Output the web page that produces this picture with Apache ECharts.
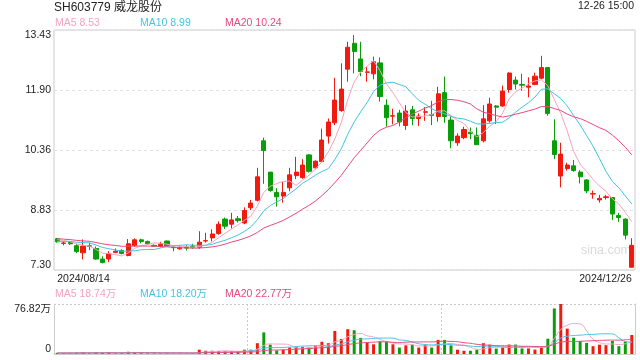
<!DOCTYPE html>
<html><head><meta charset="utf-8">
<script src="https://cdn.jsdelivr.net/npm/echarts@6/dist/echarts.min.js"></script>
<style>html,body{margin:0;padding:0;background:#fff}#c{width:640px;height:360px}</style>
</head><body><div id="c"></div>
<script>
const dates = [
'2024/08/14','2024/08/15','2024/08/16','2024/08/19','2024/08/20','2024/08/21','2024/08/22','2024/08/23','2024/08/26','2024/08/27','2024/08/28','2024/08/29','2024/08/30',
'2024/09/02','2024/09/03','2024/09/04','2024/09/05','2024/09/06','2024/09/09','2024/09/10','2024/09/11','2024/09/12','2024/09/13','2024/09/18','2024/09/19','2024/09/20','2024/09/23','2024/09/24','2024/09/25','2024/09/26','2024/09/27','2024/09/30',
'2024/10/08','2024/10/09','2024/10/10','2024/10/11','2024/10/14','2024/10/15','2024/10/16','2024/10/17','2024/10/18','2024/10/21','2024/10/22','2024/10/23','2024/10/24','2024/10/25','2024/10/28','2024/10/29','2024/10/30','2024/10/31',
'2024/11/01','2024/11/04','2024/11/05','2024/11/06','2024/11/07','2024/11/08','2024/11/11','2024/11/12','2024/11/13','2024/11/14','2024/11/15','2024/11/18','2024/11/19','2024/11/20','2024/11/21','2024/11/22','2024/11/25','2024/11/26','2024/11/27','2024/11/28','2024/11/29',
'2024/12/02','2024/12/03','2024/12/04','2024/12/05','2024/12/06','2024/12/09','2024/12/10','2024/12/11','2024/12/12','2024/12/13','2024/12/16','2024/12/17','2024/12/18','2024/12/19','2024/12/20','2024/12/23','2024/12/24','2024/12/25','2024/12/26'];

const open = [8.10,7.98,8.00,7.92,7.74,7.92,7.85,7.58,7.58,7.75,7.80,7.67,7.92,8.07,8.03,7.93,7.90,8.04,7.88,7.84,7.89,7.91,7.88,8.04,8.12,8.23,8.60,8.47,8.61,8.50,8.89,9.08,
10.60,9.80,9.28,9.19,9.40,9.71,9.66,10.24,9.91,10.07,10.72,11.06,11.37,12.43,13.09,12.69,12.35,12.31,
12.59,11.51,11.23,11.31,10.99,11.39,11.17,11.33,11.27,11.22,11.83,11.13,10.55,10.68,10.82,10.74,10.60,11.11,11.49,11.49,11.91,
12.15,12.04,11.97,12.04,12.20,12.47,10.60,9.70,9.89,9.96,9.80,9.60,9.24,9.09,9.15,9.15,8.69,8.60,7.37];
const close = [8.02,7.99,7.97,7.77,7.91,7.90,7.58,7.49,7.72,7.78,7.72,7.97,8.07,8.03,7.97,7.91,7.96,7.92,7.87,7.88,7.86,7.88,8.01,8.05,8.22,8.47,8.42,8.58,8.56,8.82,9.01,9.68,
10.35,9.33,9.17,9.28,9.73,9.80,9.98,9.82,10.08,10.62,11.08,11.64,11.92,12.99,12.88,12.37,12.36,12.62,
11.73,11.19,11.24,11.08,11.36,11.17,11.23,11.34,11.25,11.80,11.22,10.60,10.72,10.89,10.78,10.50,11.16,11.54,11.46,11.87,12.33,
12.05,12.02,12.00,12.25,12.47,11.30,10.25,10.26,9.98,9.84,9.68,9.32,9.25,9.13,9.17,8.73,8.64,8.19,7.93];
const low = [8.00,7.93,7.94,7.73,7.57,7.81,7.56,7.47,7.50,7.73,7.70,7.65,7.90,7.98,7.95,7.89,7.88,7.91,7.78,7.82,7.80,7.84,7.84,8.00,8.03,8.20,8.35,8.36,8.51,8.47,8.83,9.05,
9.50,9.30,8.92,9.02,9.31,9.62,9.63,9.79,9.87,10.05,10.53,11.00,11.34,12.11,12.32,12.25,12.11,12.17,
11.60,10.96,11.02,10.97,10.88,11.00,10.98,11.11,11.00,11.09,11.06,10.41,10.47,10.64,10.64,10.50,10.56,11.06,11.03,11.47,11.83,
11.91,11.88,11.71,12.02,12.17,11.24,10.13,9.41,9.84,9.81,9.51,9.26,9.12,9.02,9.10,8.58,8.53,8.08,7.37];
const high = [8.12,8.03,8.01,7.97,8.08,8.00,7.90,7.65,7.78,7.85,7.83,8.09,8.11,8.10,8.05,7.95,8.02,8.05,7.90,7.92,7.94,7.97,8.29,8.25,8.34,8.54,8.64,8.76,8.68,8.90,9.09,9.91,
10.68,9.80,9.39,9.56,9.91,10.19,10.13,10.26,10.10,10.91,11.17,12.21,12.58,13.13,13.30,13.13,12.49,12.75,
12.73,11.66,11.42,11.39,11.51,11.49,11.30,11.46,11.62,11.98,12.24,11.22,10.79,10.96,10.94,10.94,11.51,11.70,11.51,12.01,12.35,
12.24,12.31,12.22,12.34,12.77,12.47,11.15,10.55,10.04,10.11,9.85,9.62,9.33,9.22,9.22,9.15,8.76,8.62,8.11];
// volume in 万 (10k shares)
const volume = [1.8,1.4,1.2,2.2,2.4,1.3,2.6,2.0,1.9,1.2,1.3,3.4,2.2,1.4,1.2,1.0,1.1,1.5,1.3,1.2,1.0,1.2,6.6,5.0,5.0,4.4,3.9,4.2,3.3,6.6,6.6,16.6,
33.2,14.4,5.5,6.6,9.9,11.0,11.0,9.9,12.2,18.8,16.6,35.4,23.2,38.1,36.5,24.8,17.2,14.9,
19.3,18.8,14.9,9.9,13.3,14.4,9.9,14.4,9.9,21.6,21.6,13.3,6.6,5.0,5.0,6.6,16.6,14.4,8.3,9.9,14.5,
14.5,8.5,8.5,6.8,11.3,23.5,70.0,76.82,39.0,25.0,20.0,17.0,12.0,14.3,13.5,20.0,12.0,19.0,29.2];
// trading days before the first shown day (only used for moving averages)
const preClose = [8.25,8.20,8.15,8.18,8.12,8.16,8.20,8.18,8.14,8.12,8.00,7.96,7.98,8.02,7.97,8.10,8.12,8.06,8.08];
const preVolume = [1.6,1.4,1.8,1.5,1.3,1.7,1.5,1.2,1.4,1.6,1.3,1.5,1.8,1.4,1.2,1.6,1.5,1.3,1.4];
const priceTicks = ['7.30','8.83','10.36','11.90','13.43'];
const volTicks = ['0','76.82万'];
const maPeriods = [5,10,20];
const titleText = 'SH603779 威龙股份';
const timeText = '12-26 15:00';

const FONT = '"Liberation Sans", Arial, "Noto Sans CJK SC", sans-serif';
const UP = '#f2190f', DOWN = '#0a9d0a';
const MA_COLORS = ['#f6a3c1', '#45c3e3', '#e9497e'];

function ma(n, pre, arr) {
  const all = pre.concat(arr);
  return arr.map((_, i) => {
    const end = pre.length + i;
    let s = 0;
    for (let k = end - n + 1; k <= end; k++) s += all[k];
    return +(s / n).toFixed(4);
  });
}
const priceMA = maPeriods.map(n => ma(n, preClose, close));
const volMA = maPeriods.map(n => ma(n, preVolume, volume));
const candles = dates.map((d, i) => [open[i], close[i], low[i], high[i]]);
const volBars = dates.map((d, i) => ({value: volume[i], itemStyle: {color: close[i] >= open[i] ? UP : DOWN}}));

const chart = echarts.init(document.getElementById('c'), null, {renderer: 'canvas'});
const graphics = [
  {type: 'text', left: 54, top: 2, style: {text: titleText, font: '12px ' + FONT, fill: '#222'}},
  {type: 'text', right: 6, top: 1, style: {text: timeText, font: '10.5px ' + FONT, fill: '#222'}},
  {type: 'text', left: 581, top: 244, style: {text: 'sina.com', font: '12.5px ' + FONT, fill: '#dadada'}}
];
const legendX = [55, 140, 225];
maPeriods.forEach((n, k) => {
  graphics.push({type: 'text', left: legendX[k], top: 18,
    style: {text: 'MA' + n + ' ' + priceMA[k][priceMA[k].length - 1].toFixed(2), font: '10.5px ' + FONT, fill: MA_COLORS[k]}});
  graphics.push({type: 'text', left: legendX[k], top: 289,
    style: {text: 'MA' + n + ' ' + volMA[k][volMA[k].length - 1].toFixed(2) + '万', font: '10.5px ' + FONT, fill: MA_COLORS[k]}});
});

const lineSeries = (data, k, axis) => ({
  type: 'line', data, xAxisIndex: axis, yAxisIndex: axis === 0 ? 0 : 1,
  showSymbol: false, symbol: 'none', smooth: axis === 1,
  lineStyle: {width: 1, color: MA_COLORS[k]}, z: 3, silent: true
});

chart.setOption({
  animation: false,
  backgroundColor: '#fff',
  textStyle: {fontFamily: FONT},
  graphic: graphics,
  grid: [
    {left: 54, right: 5, top: 30, height: 240, show: true, borderColor: '#cccccc', borderWidth: 1},
    {left: 54, right: 5, top: 304, height: 50, show: false}
  ],
  xAxis: [
    {type: 'category', data: dates, gridIndex: 0, boundaryGap: true,
     axisLine: {show: false}, axisTick: {show: false}, splitLine: {show: false},
     axisLabel: {show: true, interval: (i) => i === 0 || i === dates.length - 1, margin: 4,
       fontSize: 10.5, color: '#222', alignMinLabel: 'left', alignMaxLabel: 'right'}},
    {type: 'category', data: dates, gridIndex: 1, boundaryGap: true,
     axisLine: {show: true, lineStyle: {color: '#cccccc'}}, axisTick: {show: false}, axisLabel: {show: false},
     splitLine: {show: true, interval: (i) => i === 30 || i === 60, lineStyle: {color: '#c8c8c8', type: [2, 2]}}}
  ],
  yAxis: [
    {type: 'value', gridIndex: 0, min: 7.30, max: 13.43, interval: 1.5325, scale: true,
     axisLine: {show: false}, axisTick: {show: false},
     axisLabel: {margin: 3, fontSize: 10.5, color: '#222', formatter: (v, i) => priceTicks[i],
       verticalAlignMinLabel: 'bottom', verticalAlignMaxLabel: 'top'},
     splitLine: {show: true, lineStyle: {color: '#e0e0e0', type: [3, 3]}}},
    {type: 'value', gridIndex: 1, min: 0, max: 76.82, interval: 76.82,
     axisLine: {show: true, lineStyle: {color: '#cccccc'}}, axisTick: {show: false},
     axisLabel: {margin: 3, fontSize: 10.5, color: '#222', formatter: (v, i) => volTicks[i],
       verticalAlignMinLabel: 'bottom', verticalAlignMaxLabel: 'top'},
     splitLine: {show: true, lineStyle: {color: '#c8c8c8', type: [2, 2]}}},
    {type: 'value', gridIndex: 1, min: 0, max: 76.82, interval: 76.82, position: 'right',
     axisLine: {show: true, lineStyle: {color: '#cccccc'}}, axisTick: {show: false},
     axisLabel: {show: false}, splitLine: {show: false}}
  ],
  series: [
    {type: 'candlestick', data: candles, xAxisIndex: 0, yAxisIndex: 0, barWidth: '72%',
     itemStyle: {color: UP, color0: DOWN, borderColor: UP, borderColor0: DOWN, borderWidth: 1}},
    ...priceMA.map((d, k) => lineSeries(d, k, 0)),
    {type: 'bar', data: volBars, xAxisIndex: 1, yAxisIndex: 1, barWidth: '46%'},
    ...volMA.map((d, k) => lineSeries(d, k, 1))
  ]
});
</script></body></html>
